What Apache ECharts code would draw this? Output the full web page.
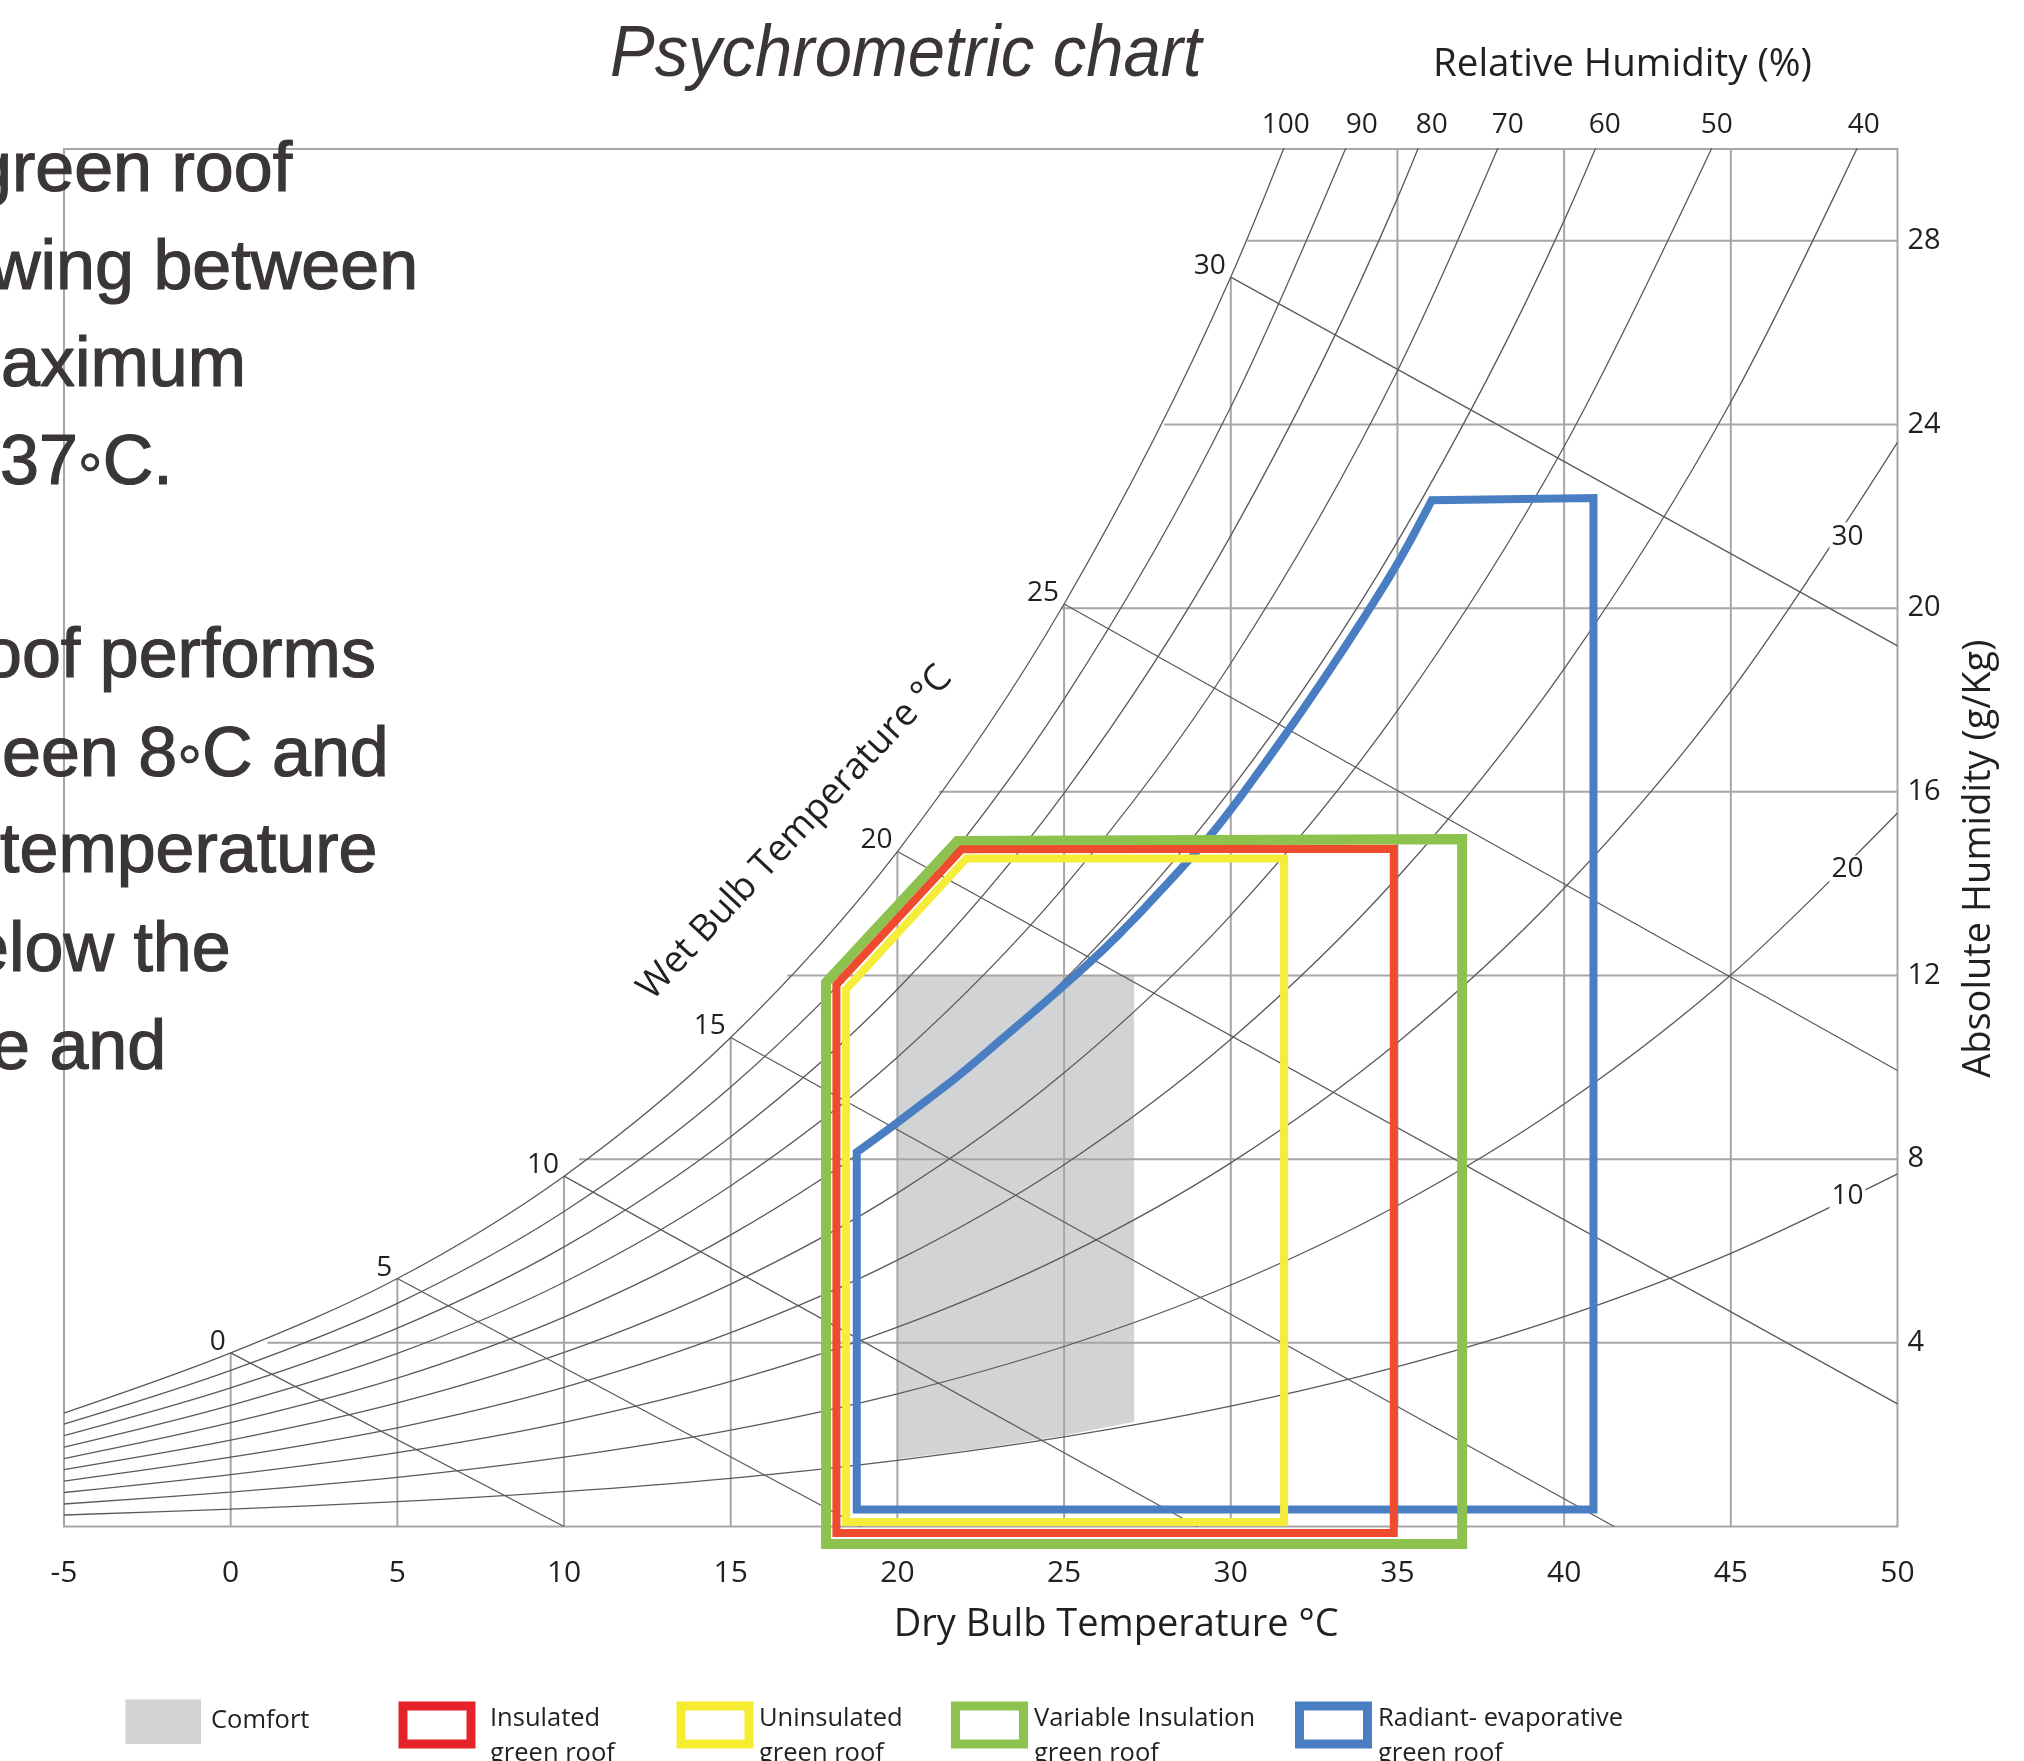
<!DOCTYPE html>
<html>
<head>
<meta charset="utf-8">
<script src="https://cdn.jsdelivr.net/npm/echarts@6/dist/echarts.min.js"></script>
<style>
html,body{margin:0;padding:0;background:#ffffff;}
#chart{width:2024px;height:1761px;}
</style>
</head>
<body>
<div id="chart"></div>
<script>
// ---------------- DATA ----------------
// Dry-bulb temperatures (deg C) at which the relative-humidity curves were read
const curveTemps = [-5, 0, 5, 10, 15, 20, 25, 30, 35, 40, 45, 50];
// Absolute humidity (g/kg) of each relative-humidity curve at curveTemps
const rh100 = [2.47, 3.78, 5.40, 7.63, 10.65, 14.70, 20.09, 27.21, 36.59];
const rh90  = [2.23, 3.40, 4.86, 6.86, 9.57, 13.20, 18.02, 24.38, 32.73];
const rh80  = [1.98, 3.02, 4.32, 6.09, 8.49, 11.70, 15.97, 21.58, 28.93, 38.51];
const rh70  = [1.73, 2.64, 3.77, 5.32, 7.42, 10.22, 13.93, 18.80, 25.17, 33.44];
const rh60  = [1.48, 2.26, 3.23, 4.56, 6.35, 8.74, 11.90, 16.05, 21.45, 28.44, 37.47];
const rh50  = [1.24, 1.88, 2.69, 3.79, 5.28, 7.26, 9.88, 13.31, 17.77, 23.52, 30.91];
const rh40  = [0.99, 1.51, 2.15, 3.03, 4.22, 5.80, 7.88, 10.61, 14.14, 18.68, 24.49, 31.89];
const rh30  = [0.74, 1.13, 1.61, 2.27, 3.16, 4.34, 5.89, 7.92, 10.54, 13.90, 18.19, 23.61];
const rh20  = [0.49, 0.75, 1.07, 1.51, 2.10, 2.89, 3.92, 5.26, 6.99, 9.20, 12.01, 15.54];
const rh10  = [0.25, 0.38, 0.54, 0.76, 1.05, 1.44, 1.95, 2.62, 3.48, 4.57, 5.95, 7.68];
const rhLevels = [100, 90, 80, 70, 60, 50, 40, 30, 20, 10];

// Relative humidity labels along the top edge and the right side
const rhTopLabels = ['100', '90', '80', '70', '60', '50', '40'];
const rhTopLabelTemps = [31.65, 33.93, 36.03, 38.31, 41.22, 44.58, 48.99];
const rhSideLabels = ['30', '20', '10'];
const rhSideLabelTemps = [48.5, 48.5, 48.5];
const rhSideLabelHum = [21.56, 14.31, 7.19];

// Wet bulb lines: start on the saturation curve, end at the chart edge
const wbTemps   = [0, 5, 10, 15, 20, 25, 30];
const wbStartHum = [3.78, 5.40, 7.63, 10.65, 14.70, 20.09, 27.21];
const wbEndTemps = [10, 18.9, 29, 41.5, 50, 50, 50];
const wbEndHum   = [0, 0, 0, 0, 2.67, 9.93, 19.18];

// Dry bulb grid lines (vertical) and their tops on the saturation curve
const dbGridTemps = [0, 5, 10, 15, 20, 25, 30, 35, 40, 45];
const dbGridTops  = [3.78, 5.40, 7.63, 10.65, 14.70, 20.09, 27.21, 30, 30, 30];
// Absolute humidity grid lines (horizontal) and where they leave the saturation curve
const ahGridHum    = [4, 8, 12, 16, 20, 24, 28];
const ahGridStartT = [1.1, 10.45, 16.7, 21.25, 24.9, 28.0, 30.5];

// Axis ranges / ticks
const dbMin = -5, dbMax = 50, dbStep = 5;
const ahMin = 0, ahMax = 30, ahStep = 4;

// Comfort zone
const comfortT = [20, 27.1, 27.1, 25, 22.5, 20];
const comfortW = [12, 12, 2.28, 1.98, 1.70, 1.47];

// Green roof envelopes (dry bulb deg C, absolute humidity g/kg)
const variableT = [17.86, 17.86, 21.8, 36.94, 36.94];
const variableW = [-0.38, 11.85, 14.93, 14.97, -0.38];
const insulatedT = [18.17, 18.17, 21.93, 34.89, 34.89];
const insulatedW = [-0.14, 11.8, 14.75, 14.76, -0.14];
const uninsulatedT = [18.46, 18.46, 22.07, 31.6, 31.6];
const uninsulatedW = [0.1, 11.7, 14.55, 14.55, 0.1];
const radiantT = [18.78, 18.78, 20.0, 21.8, 23.3, 24.9, 26.4, 27.9, 29.5, 31.0, 32.5, 34.0, 35.1, 36.03, 40.88, 40.88];
const radiantW = [0.37, 8.15, 8.8, 9.80, 10.72, 11.72, 12.72, 13.85, 15.15, 16.6, 18.15, 19.8, 21.1, 22.35, 22.4, 0.37];

// ---------------- STYLE ----------------
const AX_FONT = 'Open Sans';
const TXT = '#231f20';
const GRID_COLOR = '#a6a6a6';
const CURVE_COLOR = '#5a5a5a';
const COL_COMFORT = '#d1d3d4';
const COL_RED = '#ee4b2f';
const COL_YELLOW = '#f6ed3b';
const COL_GREEN = '#8dc24f';
const COL_BLUE = '#4a7ec3';

function segmentSeries(name, data, color, width, z) {
  return {
    type: 'custom', name: name, coordinateSystem: 'cartesian2d', silent: true, z: z,
    encode: { x: [0, 2], y: [1, 3] },
    data: data,
    renderItem: function (params, api) {
      const a = api.coord([api.value(0), api.value(1)]);
      const b = api.coord([api.value(2), api.value(3)]);
      return { type: 'line', shape: { x1: a[0], y1: a[1], x2: b[0], y2: b[1] },
               style: { stroke: color, lineWidth: width, fill: null } };
    }
  };
}

// Catmull-Rom smoothing of a run of pixel points (drawing only)
function smoothRun(pts) {
  const out = [pts[0]];
  const n = pts.length;
  for (let i = 0; i < n - 1; i++) {
    const p0 = pts[Math.max(i - 1, 0)], p1 = pts[i], p2 = pts[i + 1], p3 = pts[Math.min(i + 2, n - 1)];
    for (let s = 1; s <= 10; s++) {
      const t = s / 10, t2 = t * t, t3 = t2 * t;
      const f = function (k) {
        return 0.5 * ((2 * p1[k]) + (-p0[k] + p2[k]) * t + (2 * p0[k] - 5 * p1[k] + 4 * p2[k] - p3[k]) * t2 + (-p0[k] + 3 * p1[k] - 3 * p2[k] + p3[k]) * t3);
      };
      out.push([f(0), f(1)]);
    }
  }
  return out;
}

function polygonSeries(name, ts, ws, style, z, smoothFrom, smoothTo) {
  const flat = [];
  const xs = [], ys = [];
  ts.forEach(function (t, i) { flat.push(t, ws[i]); xs.push(2 * i); ys.push(2 * i + 1); });
  const n = ts.length;
  return {
    type: 'custom', name: name, coordinateSystem: 'cartesian2d', silent: true, z: z, clip: false,
    encode: { x: xs, y: ys },
    data: [flat],
    renderItem: function (params, api) {
      const pts = [];
      for (let i = 0; i < n; i++) pts.push(api.coord([api.value(2 * i), api.value(2 * i + 1)]));
      let poly = pts;
      if (smoothFrom != null) {
        poly = pts.slice(0, smoothFrom)
          .concat(smoothRun(pts.slice(smoothFrom, smoothTo + 1)))
          .concat(pts.slice(smoothTo + 1));
      }
      return { type: 'polygon', shape: { points: poly }, style: Object.assign({}, style) };
    }
  };
}

function textSeries(name, xs, ys, labels, opt, z) {
  return {
    type: 'custom', name: name, coordinateSystem: 'cartesian2d', silent: true, z: z, clip: false,
    data: xs.map(function (x, i) { return [x, ys[i], i]; }),
    renderItem: function (params, api) {
      const c = api.coord([api.value(0), api.value(1)]);
      return { type: 'text', x: c[0] + opt.dx, y: c[1] + opt.dy, z2: 10,
               style: { text: String(labels[api.value(2)]), fontSize: opt.size, fontFamily: AX_FONT,
                        fill: TXT, align: opt.align, verticalAlign: 'middle',
                        backgroundColor: opt.bg || null, padding: opt.pad || 0 } };
    }
  };
}

const series = [];
series.push(polygonSeries('Comfort', comfortT, comfortW, { fill: COL_COMFORT, stroke: null }, 1));
series.push(segmentSeries('Dry bulb grid', dbGridTemps.map(function (t, i) { return [t, ahMin, t, dbGridTops[i]]; }), GRID_COLOR, 2, 2));
series.push(segmentSeries('Absolute humidity grid', ahGridHum.map(function (w, i) { return [ahGridStartT[i], w, dbMax, w]; }), GRID_COLOR, 2, 2));

const rhCurves = [rh100, rh90, rh80, rh70, rh60, rh50, rh40, rh30, rh20, rh10];
rhCurves.forEach(function (vals, i) {
  series.push({
    type: 'line', name: 'RH ' + rhLevels[i] + '%', silent: true, z: 3,
    data: vals.map(function (v, j) { return [curveTemps[j], v]; }),
    smooth: 0.33, symbol: 'none', clip: true,
    lineStyle: { color: CURVE_COLOR, width: 1.3 }
  });
});
series.push(segmentSeries('Wet bulb lines', wbTemps.map(function (t, i) { return [t, wbStartHum[i], wbEndTemps[i], wbEndHum[i]]; }), CURVE_COLOR, 1.3, 3));

series.push(polygonSeries('Radiant- evaporative green roof', radiantT, radiantW, { fill: 'none', stroke: COL_BLUE, lineWidth: 8, lineJoin: 'miter' }, 5, 1, 13));
series.push(polygonSeries('Variable Insulation green roof', variableT, variableW, { fill: 'none', stroke: COL_GREEN, lineWidth: 10, lineJoin: 'miter' }, 6));
series.push(polygonSeries('Insulated green roof', insulatedT, insulatedW, { fill: 'none', stroke: COL_RED, lineWidth: 8, lineJoin: 'miter' }, 7));
series.push(polygonSeries('Uninsulated green roof', uninsulatedT, uninsulatedW, { fill: 'none', stroke: COL_YELLOW, lineWidth: 8, lineJoin: 'miter' }, 8));

series.push(textSeries('Wet bulb labels', wbTemps, wbStartHum, wbTemps, { dx: -5, dy: -11, size: 28, align: 'right' }, 10));
series.push(textSeries('RH top labels', rhTopLabelTemps, rhTopLabelTemps.map(function () { return ahMax; }), rhTopLabels, { dx: 0, dy: -24, size: 28, align: 'center' }, 10));
series.push(textSeries('RH side labels', rhSideLabelTemps, rhSideLabelHum, rhSideLabels, { dx: 0, dy: 0, size: 28, align: 'center', bg: '#ffffff', pad: [0, 2] }, 10));

// ---------------- TEXT / LEGEND GRAPHICS ----------------
const leftLines = ['green roof', 'wing between', 'aximum', '37\u25E6C.', 'oof performs', 'een 8\u25E6C and', 'temperature', 'elow the', 'e and'];
const leftLineY = [172, 270, 367, 465, 658, 757, 853, 952, 1050];
const leftLineX = [-27, -10, 1, 0, -17, 2, 0, -30, -9];

const graphics = [];
graphics.push({ type: 'text', x: 610, y: 56, scaleX: 0.93, z: 100,
  style: { text: 'Psychrometric chart', fontSize: 72, fontStyle: 'italic', fontFamily: 'Liberation Sans', fill: '#3b3536', align: 'left', verticalAlign: 'middle' } });
leftLines.forEach(function (s, i) {
  graphics.push({ type: 'text', x: leftLineX[i], y: leftLineY[i], z: 100,
    style: { text: s, fontSize: 70, fontFamily: 'Liberation Sans', fill: '#3a3637', stroke: '#3a3637', lineWidth: 1.2, align: 'left', verticalAlign: 'middle' } });
});
graphics.push({ type: 'text', x: 1433, y: 65, z: 100,
  style: { text: 'Relative Humidity (%)', fontSize: 38.5, fontFamily: AX_FONT, fill: TXT, align: 'left', verticalAlign: 'middle' } });
graphics.push({ type: 'text', x: 795, y: 833, rotation: 47 * Math.PI / 180, z: 100,
  style: { text: 'Wet Bulb Temperature \u00B0C', fontSize: 37, fontFamily: AX_FONT, fill: TXT, align: 'center', verticalAlign: 'middle' } });

// legend
graphics.push({ type: 'rect', shape: { x: 125.5, y: 1699.5, width: 75.5, height: 44.5 }, style: { fill: COL_COMFORT }, z: 100 });
const legendBoxes = [
  { x: 398.5, color: '#e6222a', text: 'Insulated', tx: 490 },
  { x: 676.5, color: '#f6ec2f', text: 'Uninsulated', tx: 759 },
  { x: 951, color: COL_GREEN, text: 'Variable Insulation', tx: 1034 },
  { x: 1295, color: COL_BLUE, text: 'Radiant- evaporative', tx: 1378 }
];
legendBoxes.forEach(function (b) {
  graphics.push({ type: 'rect', shape: { x: b.x + 4.5, y: 1706, width: 68, height: 38 }, style: { fill: '#ffffff', stroke: b.color, lineWidth: 9 }, z: 100 });
  graphics.push({ type: 'text', x: b.tx, y: 1719, z: 100,
    style: { text: b.text, fontSize: 25.5, fontFamily: AX_FONT, fill: TXT, align: 'left', verticalAlign: 'middle' } });
  graphics.push({ type: 'text', x: b.tx, y: 1754, z: 100,
    style: { text: 'green roof', fontSize: 25.5, fontFamily: AX_FONT, fill: TXT, align: 'left', verticalAlign: 'middle' } });
});
graphics.push({ type: 'text', x: 211, y: 1721, z: 100,
  style: { text: 'Comfort', fontSize: 25.5, fontFamily: AX_FONT, fill: TXT, align: 'left', verticalAlign: 'middle' } });

// ---------------- OPTION ----------------
const option = {
  animation: false,
  backgroundColor: '#ffffff',
  textStyle: { fontFamily: AX_FONT },
  grid: { left: 64, right: 126.5, top: 149, bottom: 234.5, show: true, borderColor: GRID_COLOR, borderWidth: 2, backgroundColor: 'transparent', containLabel: false },
  xAxis: {
    type: 'value', min: dbMin, max: dbMax, interval: dbStep,
    name: 'Dry Bulb Temperature \u00B0C', nameLocation: 'middle', nameGap: 80,
    nameTextStyle: { fontSize: 38, fontFamily: AX_FONT, color: TXT, padding: [0, 0, 0, 271] },
    axisLine: { show: false }, axisTick: { show: false }, splitLine: { show: false },
    axisLabel: { fontSize: 30, fontFamily: AX_FONT, color: TXT, margin: 32 }
  },
  yAxis: {
    type: 'value', position: 'right', min: ahMin, max: ahMax, interval: ahStep,
    name: 'Absolute Humidity (g/Kg)', nameLocation: 'middle', nameGap: 63, nameRotate: 90,
    nameTextStyle: { fontSize: 38, fontFamily: AX_FONT, color: TXT, padding: [0, 42, 0, 0] },
    axisLine: { show: false }, axisTick: { show: false }, splitLine: { show: false },
    axisLabel: { fontSize: 29, fontFamily: AX_FONT, color: TXT, margin: 10,
      formatter: function (v) { return (v === ahMin || v === ahMax) ? '' : String(v); } }
  },
  graphic: graphics,
  series: series
};

const chart = echarts.init(document.getElementById('chart'), null, { renderer: 'canvas', width: 2024, height: 1761 });
chart.setOption(option);
</script>
</body>
</html>
